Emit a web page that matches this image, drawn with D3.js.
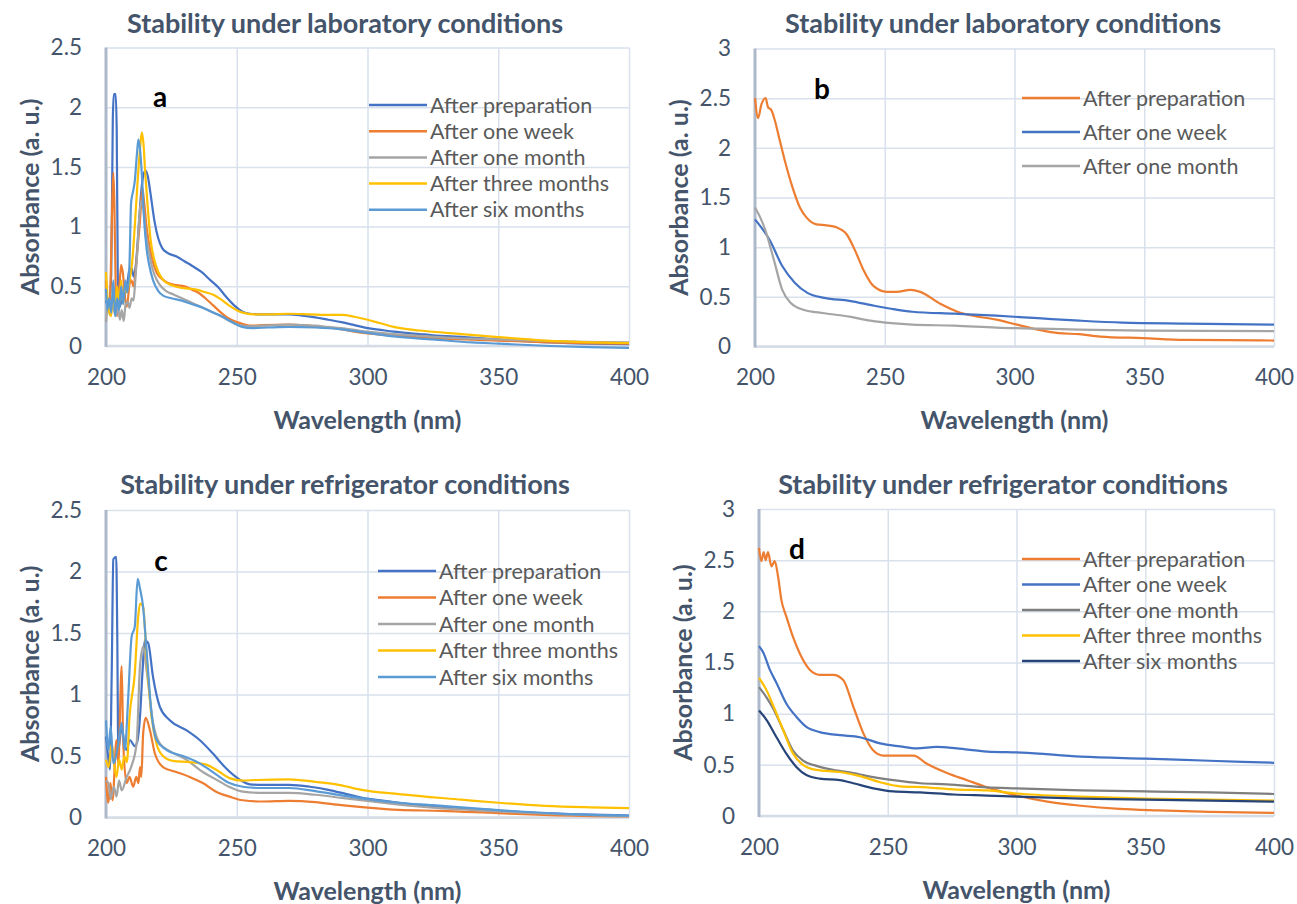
<!DOCTYPE html>
<html>
<head>
<meta charset="utf-8">
<script src="https://cdn.jsdelivr.net/npm/d3@7"></script>
<style>
  body { margin: 0; background: #fff; }
  svg { display: block; font-family: Lato, "Open Sans", sans-serif; }
</style>
</head>
<body>
<svg id="chart" width="1297" height="904"></svg>
<script>
// ticks
const xTicks = [200, 250, 300, 350, 400];
const yTicks25 = [0, 0.5, 1, 1.5, 2, 2.5];
const yTicks3 = [0, 0.5, 1, 1.5, 2, 2.5, 3];

// legend names
const namesFive = ["After preparation", "After one week", "After one month", "After three months", "After six months"];
const namesThree = ["After preparation", "After one week", "After one month"];

// panel a: laboratory, [wavelength nm, absorbance]
const labPrep = [[200,0.38],[201,0.33],[202,0.6],[202.6,1.9],[203,2.11],[203.7,2.11],[204.1,1.8],[204.5,0.6],[205,0.32],[206,0.38],[207,0.42],[208,0.5],[209,0.64],[209.8,0.65],[210.6,0.58],[211.5,0.7],[212.5,1.0],[213.5,1.3],[214.5,1.45],[215.2,1.47],[216,1.42],[217,1.28],[218.5,1.05],[220,0.9],[221.5,0.82],[223.5,0.78],[227,0.75],[230,0.71],[233,0.67],[236.5,0.62],[240,0.55],[243,0.49],[246,0.41],[249,0.34],[252,0.29],[255,0.27],[260,0.265],[270,0.265],[275,0.255],[280,0.24],[285,0.22],[290,0.2],[295,0.175],[300,0.15],[305,0.135],[310,0.12],[320,0.1],[325,0.09],[337,0.075],[350,0.055],[370,0.03],[385,0.02],[400,0.015]];
const labWeek = [[200,0.55],[200.6,0.35],[201.5,0.4],[202.3,1.1],[202.8,1.45],[203.2,1.2],[203.7,0.5],[204.2,0.25],[205,0.45],[205.8,0.68],[206.5,0.6],[207.3,0.4],[208,0.33],[209,0.52],[209.7,0.55],[210.5,0.5],[211.2,0.6],[212,0.8],[213,1.05],[213.9,1.32],[214.6,1.2],[215.5,1.0],[216.5,0.85],[218,0.7],[219.5,0.61],[221.5,0.56],[223.5,0.53],[227,0.51],[230,0.5],[233,0.47],[235,0.45],[238,0.4],[241,0.34],[244,0.28],[247,0.23],[250,0.2],[253,0.18],[256,0.17],[260,0.175],[270,0.18],[275,0.175],[280,0.165],[285,0.155],[290,0.14],[295,0.12],[300,0.105],[305,0.095],[312,0.085],[320,0.07],[337,0.055],[350,0.045],[370,0.03],[400,0.02]];
const labMonth = [[200,0.2],[200.8,0.34],[201.5,0.26],[202.2,0.36],[203,0.3],[203.8,0.25],[204.6,0.33],[205.3,0.22],[206,0.3],[206.8,0.21],[207.5,0.35],[208.3,0.37],[209,0.32],[209.8,0.4],[210.5,0.38],[211.2,0.55],[212,0.8],[212.8,1.1],[213.6,1.22],[214.3,1.15],[215.2,0.95],[216.5,0.78],[218,0.63],[219.5,0.55],[221,0.5],[223,0.46],[226,0.43],[229,0.4],[232,0.37],[236,0.33],[240,0.29],[244,0.25],[248,0.2],[252,0.17],[256,0.165],[260,0.17],[270,0.18],[275,0.175],[280,0.17],[285,0.16],[290,0.15],[295,0.135],[300,0.12],[310,0.1],[320,0.085],[330,0.07],[350,0.055],[370,0.04],[400,0.03]];
const labThree = [[200,0.62],[200.6,0.4],[201.3,0.28],[202,0.25],[202.7,0.45],[203.4,0.3],[204.2,0.5],[205,0.35],[205.8,0.55],[206.5,0.35],[207.3,0.5],[208,0.45],[209,0.55],[210,0.7],[211,1.0],[212,1.35],[213,1.65],[213.7,1.79],[214.3,1.7],[215,1.45],[216,1.15],[217,0.9],[218.5,0.72],[220,0.62],[222,0.55],[225,0.51],[228,0.49],[232,0.48],[235,0.47],[238,0.45],[241,0.43],[244,0.39],[247,0.34],[250,0.3],[253,0.275],[257,0.265],[262,0.265],[270,0.27],[278,0.265],[285,0.26],[290,0.26],[295,0.245],[300,0.22],[305,0.19],[310,0.16],[320,0.13],[336,0.1],[350,0.075],[365,0.05],[380,0.035],[400,0.025]];
const labSix = [[200,0.48],[200.5,0.3],[201.2,0.4],[202,0.28],[202.8,0.55],[203.5,0.25],[204.3,0.4],[205,0.3],[205.8,0.5],[206.6,0.35],[207.4,0.55],[208.2,0.45],[209,0.7],[209.6,1.2],[210.4,1.3],[211,1.38],[211.8,1.6],[212.4,1.73],[213,1.65],[213.8,1.4],[214.6,1.05],[215.5,0.82],[216.5,0.68],[218,0.55],[220,0.46],[222,0.42],[225,0.4],[229,0.38],[233,0.35],[237,0.32],[241,0.28],[245,0.24],[249,0.19],[252,0.16],[256,0.15],[262,0.155],[270,0.16],[280,0.155],[290,0.14],[300,0.11],[310,0.08],[325,0.055],[340,0.03],[350,0.02],[370,0.0],[385,-0.01],[400,-0.015]];

// panel b: laboratory, three series
const labPrepB = [[200,2.5],[201.2,2.3],[202.5,2.44],[204.1,2.5],[205,2.41],[206.3,2.38],[207.6,2.28],[209.5,2.08],[211.5,1.87],[214,1.64],[217.3,1.4],[219.8,1.3],[223.7,1.23],[227.6,1.22],[231.4,1.2],[235.3,1.13],[238.5,0.97],[241.8,0.77],[245.6,0.61],[250.8,0.55],[254.6,0.55],[259.8,0.57],[263.7,0.55],[271.4,0.43],[279.1,0.34],[284,0.31],[293,0.27],[301,0.22],[309,0.17],[317,0.134],[325,0.124],[333,0.1],[349.5,0.084],[365.7,0.067],[382,0.064],[400,0.06]];
const labWeekB = [[200,1.28],[205.7,1.07],[210.5,0.81],[215.4,0.64],[220.2,0.54],[226.7,0.49],[236.4,0.46],[246,0.41],[252.5,0.38],[260.6,0.35],[276.8,0.33],[293,0.31],[309,0.285],[325,0.26],[341.5,0.24],[365.7,0.23],[400,0.22]];
const labMonthB = [[200,1.4],[202,1.3],[204,1.17],[207.3,0.87],[210.5,0.57],[213.7,0.44],[218.6,0.37],[226.7,0.335],[236.4,0.3],[244.5,0.26],[252.5,0.235],[260.6,0.22],[276.8,0.21],[293,0.19],[309,0.18],[325,0.17],[349.5,0.16],[400,0.155]];

// panel c: refrigerator, five series
const refPrep = [[200,0.66],[200.8,0.5],[201.5,0.39],[202.2,1.2],[202.8,2.1],[203.9,2.12],[204.3,1.5],[204.7,0.55],[206,0.74],[207,0.6],[207.9,0.55],[209.1,0.63],[211,0.58],[212,0.62],[213,0.82],[214,1.2],[214.8,1.44],[216.1,1.42],[218,1.14],[220.6,0.9],[224.4,0.79],[230.7,0.71],[235.8,0.63],[240.9,0.52],[245.9,0.4],[251,0.31],[255,0.27],[260,0.265],[270,0.265],[278,0.25],[285,0.225],[292,0.19],[298,0.16],[305,0.14],[312,0.12],[325,0.09],[350,0.057],[368,0.035],[400,0.016]];
const refWeek = [[200,0.33],[200.9,0.12],[201.7,0.28],[202.5,0.14],[204,0.63],[204.7,0.44],[206,1.23],[206.6,0.6],[207.9,0.28],[209,0.33],[210.4,0.25],[211.6,0.33],[212.4,0.28],[213,0.41],[213.5,0.33],[214.2,0.68],[215.2,0.81],[216.8,0.71],[218.7,0.52],[221.8,0.41],[226.9,0.37],[232,0.33],[237,0.28],[242.1,0.21],[247.2,0.17],[252.3,0.14],[259.9,0.13],[270,0.135],[280,0.125],[290,0.1],[300,0.08],[312,0.062],[328,0.054],[350,0.035],[370,0.02],[400,0.008]];
const refMonth = [[200,0.3],[200.9,0.28],[201.8,0.15],[203,0.25],[204,0.17],[205,0.3],[206,0.22],[207.9,0.33],[209.6,0.41],[211.7,0.6],[213,1.23],[214.2,1.39],[215.5,1.2],[218,0.77],[220.6,0.6],[224.4,0.54],[230.7,0.47],[237,0.37],[242,0.31],[247,0.25],[252.3,0.21],[260,0.2],[270,0.2],[280,0.185],[290,0.16],[300,0.135],[312,0.105],[325,0.08],[350,0.05],[375,0.025],[400,0.01]];
const refThree = [[200,0.47],[201,0.41],[202.2,0.6],[203,0.45],[204,0.33],[205,0.47],[206,0.39],[207,0.5],[208,0.45],[209,0.82],[211,1.17],[212.3,1.63],[213,1.74],[214.2,1.71],[215.5,1.31],[217.4,0.82],[219.3,0.6],[221.8,0.5],[225.6,0.46],[232,0.45],[238.3,0.43],[242,0.39],[247.2,0.32],[252.3,0.3],[257.4,0.305],[270,0.31],[280,0.29],[288,0.27],[297.7,0.225],[312,0.19],[336,0.145],[350,0.12],[368,0.095],[385,0.083],[400,0.076]];
const refSix = [[200,0.79],[200.9,0.55],[201.8,0.74],[202.8,0.44],[204.7,0.6],[206,0.77],[207.2,0.55],[208.5,0.98],[209.8,1.47],[211,1.55],[212.1,1.94],[213,1.86],[214.2,1.71],[215.5,1.36],[217.4,0.85],[219.3,0.63],[223.1,0.55],[229.4,0.5],[235.8,0.44],[242.1,0.35],[247.2,0.28],[252.3,0.25],[260,0.24],[270,0.24],[280,0.215],[290,0.18],[300,0.15],[312,0.12],[325,0.1],[350,0.06],[375,0.03],[400,0.015]];

// panel d: refrigerator, five series
const refPrepD = [[200,2.62],[200.9,2.49],[201.8,2.58],[202.6,2.5],[203.5,2.58],[204.8,2.44],[206.1,2.49],[207.4,2.34],[208.7,2.11],[210.6,1.95],[213.2,1.75],[215.8,1.59],[219.7,1.43],[223.6,1.38],[228.8,1.38],[232.7,1.33],[236.6,1.07],[240.5,0.81],[244.4,0.64],[248.3,0.59],[254.8,0.59],[260,0.59],[265.2,0.51],[273,0.42],[280.8,0.35],[288.6,0.28],[300,0.2],[312,0.14],[325,0.1],[340,0.07],[355,0.055],[375,0.04],[400,0.03]];
const refWeekD = [[200,1.66],[201.6,1.6],[204.2,1.43],[206.8,1.3],[210.6,1.1],[214.5,0.97],[218.4,0.87],[223.6,0.82],[231.4,0.79],[239.2,0.77],[247,0.71],[254.8,0.68],[261.3,0.66],[269,0.675],[276.9,0.66],[288.6,0.63],[302,0.62],[325,0.58],[350,0.56],[375,0.54],[400,0.52]];
const refMonthD = [[200,1.26],[202.9,1.16],[205.5,1.05],[209.4,0.84],[213.2,0.64],[217.1,0.54],[222.3,0.49],[228.8,0.45],[236.6,0.42],[244.4,0.38],[252.2,0.35],[262.6,0.32],[273,0.31],[288.6,0.28],[300,0.27],[325,0.25],[350,0.24],[375,0.23],[400,0.215]];
const refThreeD = [[200,1.35],[202.9,1.23],[205.5,1.08],[209.4,0.84],[213.2,0.61],[217.1,0.5],[222.3,0.45],[231.4,0.43],[239.2,0.39],[247,0.33],[254.8,0.29],[265.2,0.28],[275.6,0.26],[288.6,0.25],[300,0.22],[325,0.19],[350,0.17],[375,0.16],[400,0.15]];
const refSixD = [[200,1.03],[202.9,0.94],[206.8,0.77],[210.6,0.61],[214.5,0.48],[218.4,0.4],[223.6,0.365],[231.4,0.35],[236.6,0.32],[244.4,0.27],[252.2,0.24],[262.6,0.23],[275.6,0.21],[288.6,0.2],[300,0.19],[325,0.17],[350,0.16],[375,0.15],[400,0.14]];

const blue = "#4472C4", orange = "#ED7D31", gray = "#A5A5A5", gold = "#FFC000", lightBlue = "#5B9BD5";
const darkGray = "#7F7F7F", navy = "#264478";

const panels = [
  { letter: "a", title: "Stability under laboratory conditions", box: [106, 629, 47.5, 346], yMax: 2.5, yTicks: yTicks25,
    series: [labPrep, labWeek, labMonth, labThree, labSix], colors: [blue, orange, gray, gold, lightBlue], names: namesFive,
    legend: [369, 105, 26.2], letterPos: [160, 97], titleX: 345, titleY: 33 },
  { letter: "b", title: "Stability under laboratory conditions", box: [755, 1274, 48.5, 346.5], yMax: 3, yTicks: yTicks3,
    series: [labPrepB, labWeekB, labMonthB], colors: [orange, blue, gray], names: namesThree,
    legend: [1022, 98, 34], letterPos: [822, 89], titleX: 1003, titleY: 33 },
  { letter: "c", title: "Stability under refrigerator conditions", box: [106, 629, 510, 817.5], yMax: 2.5, yTicks: yTicks25,
    series: [refPrep, refWeek, refMonth, refThree, refSix], colors: [blue, orange, gray, gold, lightBlue], names: namesFive,
    legend: [378, 571, 26.5], letterPos: [161, 561], titleX: 345, titleY: 494 },
  { letter: "d", title: "Stability under refrigerator conditions", box: [759, 1274, 509, 816], yMax: 3, yTicks: yTicks3,
    series: [refPrepD, refWeekD, refMonthD, refThreeD, refSixD], colors: [orange, blue, darkGray, gold, navy], names: namesFive,
    legend: [1022, 559, 25.5], letterPos: [797, 549], titleX: 1003, titleY: 494 },
];

const svg = d3.select("#chart");
const textColor = "#44546A";

function drawPanel(p) {
  const [left, right, top, bottom] = p.box;
  const x = d3.scaleLinear().domain([200, 400]).range([left, right]);
  const y = d3.scaleLinear().domain([0, p.yMax]).range([bottom, top]);
  const g = svg.append("g");

  // gridlines
  g.append("g")
    .attr("transform", `translate(${left},0)`)
    .call(d3.axisLeft(y).tickValues(p.yTicks).tickFormat("").tickSize(-(right - left)))
    .call(s => s.select(".domain").remove())
    .selectAll("line").attr("stroke", "#D9E1EC").attr("stroke-width", 1.5);
  g.append("g")
    .attr("transform", `translate(0,${bottom})`)
    .call(d3.axisBottom(x).tickValues(xTicks.slice(1)).tickFormat("").tickSize(-(bottom - top)))
    .call(s => s.select(".domain").remove())
    .selectAll("line").attr("stroke", "#D9E1EC").attr("stroke-width", 1.5);

  // baseline and left axis
  g.append("line").attr("x1", left).attr("x2", right).attr("y1", y(0)).attr("y2", y(0))
    .attr("stroke", "#D6DCE5").attr("stroke-width", 2.5);
  g.append("line").attr("x1", left).attr("x2", left).attr("y1", top).attr("y2", bottom + 1)
    .attr("stroke", "#ADB9CA").attr("stroke-width", 3);

  // tick labels
  const yAxis = g.append("g")
    .attr("transform", `translate(${left},0)`)
    .call(d3.axisLeft(y).tickValues(p.yTicks).tickSize(0).tickPadding(24).tickFormat(d3.format("")));
  yAxis.select(".domain").remove();
  yAxis.selectAll("text").attr("font-size", 22.5).attr("fill", textColor).attr("font-family", "Lato");

  const xAxis = g.append("g")
    .attr("transform", `translate(0,${bottom})`)
    .call(d3.axisBottom(x).tickValues(xTicks).tickSize(0).tickPadding(23));
  xAxis.select(".domain").remove();
  xAxis.selectAll("text").attr("font-size", 22.5).attr("fill", textColor).attr("font-family", "Lato");

  // series
  const line = d3.line().x(d => x(d[0])).y(d => y(d[1])).curve(d3.curveMonotoneX);
  p.series.forEach((s, i) => {
    g.append("path").datum(s).attr("d", line)
      .attr("fill", "none").attr("stroke", p.colors[i]).attr("stroke-width", 2.2)
      .attr("stroke-linejoin", "round");
  });

  // legend
  const [lx, ly, step] = p.legend;
  p.names.forEach((name, i) => {
    const yy = ly + i * step;
    g.append("line").attr("x1", lx).attr("x2", lx + 58).attr("y1", yy).attr("y2", yy)
      .attr("stroke", p.colors[i]).attr("stroke-width", 2.5);
    g.append("text").attr("x", lx + 61).attr("y", yy).attr("dy", "0.35em")
      .attr("font-size", 21.5).attr("fill", "#595959").text(name);
  });

  // titles and labels
  g.append("text").attr("x", p.titleX).attr("y", p.titleY)
    .attr("text-anchor", "middle").attr("font-size", 27).attr("font-weight", 700)
    .attr("fill", textColor).text(p.title);
  g.append("text").attr("x", p.letterPos[0]).attr("y", p.letterPos[1]).attr("dy", "0.35em")
    .attr("text-anchor", "middle").attr("font-size", 28).attr("font-weight", 700)
    .attr("fill", "#000").text(p.letter);
  g.append("text").attr("x", (left + right) / 2).attr("y", bottom + 74).attr("dy", "0.35em")
    .attr("text-anchor", "middle").attr("font-size", 25).attr("font-weight", 700)
    .attr("fill", textColor).text("Wavelength (nm)");
  g.append("text")
    .attr("transform", `translate(${left - 76},${(top + bottom) / 2}) rotate(-90)`)
    .attr("dy", "0.35em").attr("text-anchor", "middle").attr("font-size", 25).attr("font-weight", 700)
    .attr("fill", textColor).text("Absorbance (a. u.)");
}

panels.forEach(drawPanel);
</script>
</body>
</html>
